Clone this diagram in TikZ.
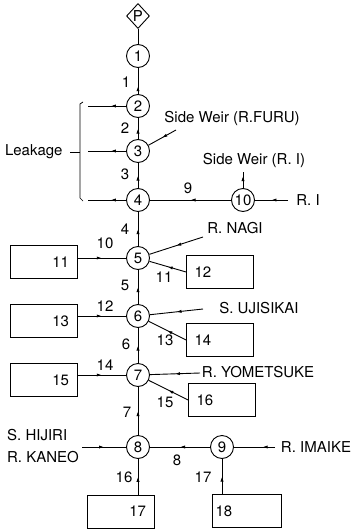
\documentclass[tikz,border=0pt]{standalone}
\usepackage{fontspec}
\setmainfont{TeX Gyre Heros}
\usetikzlibrary{shapes.geometric,arrows.meta,decorations.markings}

\begin{document}
\begin{tikzpicture}[
  x=1pt, y=-1pt, line width=0.9pt,
  every node/.style={font=\fontsize{15}{17}\selectfont},
  junction/.style={draw, circle, minimum size=23pt, inner sep=0pt},
  outlet/.style={draw, diamond, minimum width=23pt, minimum height=25pt, inner sep=0pt},
  basin/.style={draw, minimum width=67pt, minimum height=33pt, text width=51pt},
  flow/.style={postaction={decorate}, decoration={markings,
               mark=at position #1 with {\arrow{Latex[length=5pt,width=3.2pt]}}}},
  flow/.default=0.5,
  reach/.style={inner sep=1pt},
  count/.style={inner sep=1pt},
]
  \useasboundingbox (0,0) rectangle (355,530);

  % Outlet and junctions
  \node[outlet] (p) at (138,16) {P};
  \node[junction] (n1) at (138,56) {1};
  \node[junction] (n2) at (138,106) {2};
  \node[junction] (n3) at (138,151) {3};
  \node[junction] (n4) at (138,200) {4};
  \node[junction] (n5) at (138,258) {5};
  \node[junction] (n6) at (138,316) {6};
  \node[junction] (n7) at (138,375) {7};
  \node[junction] (n8) at (138,447) {8};
  \node[junction] (n9) at (222,447) {9};
  \node[junction] (n10) at (243,200) {10};

  % Sub-basins
  \node[basin, align=right] (b11) at (43.5,262) {11};
  \node[basin, align=left] (b12) at (220,272) {12};
  \node[basin, align=right] (b13) at (43.5,321) {13};
  \node[basin, align=left] (b14) at (220,340) {14};
  \node[basin, align=right] (b15) at (43.5,380) {15};
  \node[basin, align=left] (b16) at (222,400) {16};
  \node[basin, align=right] (b17) at (120.5,511.5) {17};
  \node[basin, align=left, text width=63pt] (b18) at (247,511) {18};

  % Rivers, weirs and leakage (texts)
  \node[reach] (furu) at (232,118) {Side Weir (R.FURU)};
  \node[reach] (swi) at (254,160) {Side Weir (R. I)};
  \node[reach] (ri) at (308,200) {R. I};
  \node[reach] (nagi) at (235,228) {R. NAGI};
  \node[reach] (uji) at (259,308) {S. UJISIKAI};
  \node[reach] (yome) at (258,372) {R. YOMETSUKE};
  \node[reach, align=left, font=\fontsize{15}{22}\selectfont] (hiji) at (43,446) {S. HIJIRI\\R. KANEO};
  \node[reach] (imaike) at (316,447) {R. IMAIKE};
  \node[reach, anchor=east] (leak) at (64,152) {Leakage};

  % Free ends
  \coordinate (lk2) at (88,106);
  \coordinate (lk3) at (88,151);
  \coordinate (lk4) at (88,200);
  \coordinate (furuend) at (176,130);
  \coordinate (swiend) at (243,172);
  \coordinate (riend) at (288,200);
  \coordinate (nagiend) at (203,237);
  \coordinate (ujiend) at (203,309);
  \coordinate (yomeend) at (200,373);
  \coordinate (hijiend) at (82,447);
  \coordinate (imaikeend) at (275,447);

  % Main channel
  \draw (p) -- (n1);
  \draw[flow=0.3] (n2) -- (n1);
  \draw[flow] (n3) -- (n2);
  \draw[flow] (n4) -- (n3);
  \draw[flow] (n5) -- (n4);
  \draw[flow] (n6) -- (n5);
  \draw[flow] (n7) -- (n6);
  \draw[flow] (n8) -- (n7);
  \draw[flow] (n10) -- (n4);
  \draw[flow] (n9) -- (n8);

  % Leakage
  \draw[flow=0.4] (n2) -- (lk2);
  \draw[flow=0.4] (n3) -- (lk3);
  \draw[flow=0.4] (n4) -- (lk4);
  \draw[line width=0.7pt] (83,102) -- (80,104) -- (80,198) -- (83,201);
  \draw[line width=0.7pt] (70,152) -- (80,152);

  % Inflows
  \draw[flow] (furuend) -- (n3);
  \draw[flow=0.75] (n10) -- (swiend);
  \draw[flow] (riend) -- (n10);
  \draw[flow] (nagiend) -- (n5);
  \draw[flow] (b11.east |- n5) -- (n5);
  \draw[flow] (b12.west) -- (n5);
  \draw[flow] (b13.east |- n6) -- (n6);
  \draw[flow] (ujiend) -- (n6);
  \draw[flow] (b14.west) -- (n6);
  \draw[flow] (b15.east |- n7) -- (n7);
  \draw[flow] (yomeend) -- (n7);
  \draw[flow] (b16.west) -- (n7);
  \draw[flow] (hijiend) -- (n8);
  \draw[flow] (b17.north -| n8) -- (n8);
  \draw[flow] (b18.north -| n9) -- (n9);
  \draw[flow=0.3] (imaikeend) -- (n9);

  % Reach numbers
  \node[count] (c1) at (126,82) {1};
  \node[count] (c2) at (125,128) {2};
  \node[count] (c3) at (125,174) {3};
  \node[count] (c4) at (125,229) {4};
  \node[count] (c5) at (125,285) {5};
  \node[count] (c6) at (126,344) {6};
  \node[count] (c7) at (127,412) {7};
  \node[count] (c8) at (177,460) {8};
  \node[count] (c9) at (188,188) {9};
  \node[count] (c10) at (105,243) {10};
  \node[count] (c11) at (164,277) {11};
  \node[count] (c12) at (105,306) {12};
  \node[count] (c13) at (165,340) {13};
  \node[count] (c14) at (105,365) {14};
  \node[count] (c15) at (165,402) {15};
  \node[count] (c16) at (124,477) {16};
  \node[count] (c17) at (203,477) {17};
\end{tikzpicture}
\end{document}
